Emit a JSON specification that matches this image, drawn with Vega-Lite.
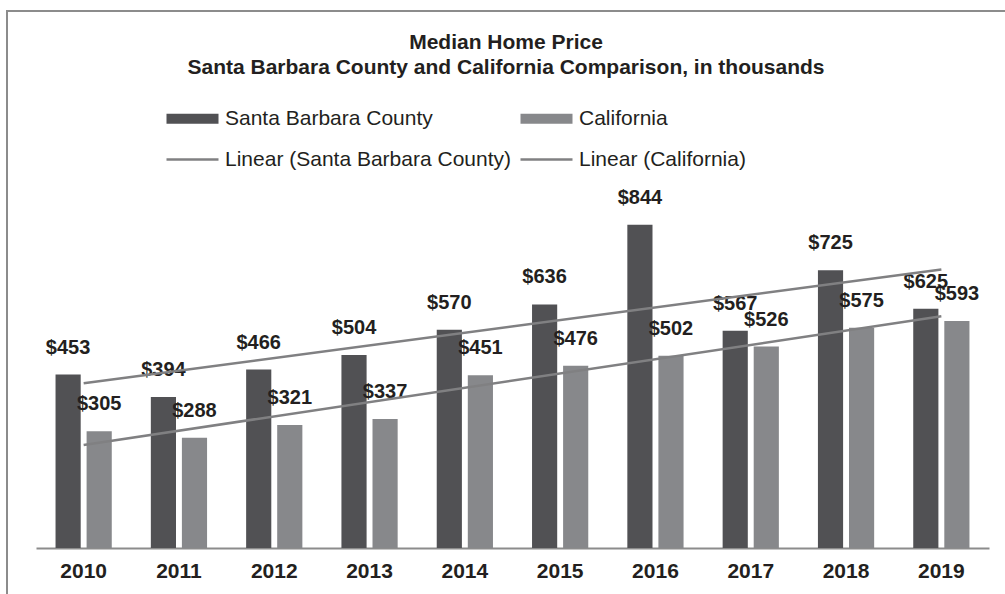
{
  "$schema": "https://vega.github.io/schema/vega-lite/v6.json",
  "autosize": {"type": "none"},
  "padding": {"left": 7, "top": 11, "right": 0, "bottom": 0},
  "width": 998,
  "height": 583,
  "background": "white",
  "config": {
    "view": {"stroke": "#8c8c8c", "strokeWidth": 2, "strokeDash": [998, 1581, 583]},
    "font": "Liberation Sans"
  },
  "title": {
    "text": ["Median Home Price", "Santa Barbara County and California Comparison, in thousands"],
    "font": "Liberation Sans",
    "fontSize": 21,
    "fontWeight": "bold",
    "color": "#231f20",
    "lineHeight": 25,
    "anchor": "middle",
    "frame": "group",
    "offset": -67
  },
  "datasets": {
    "bars": [
      {"year": "2010", "series": "Santa Barbara County", "value": 453},
      {"year": "2010", "series": "California", "value": 305},
      {"year": "2011", "series": "Santa Barbara County", "value": 394},
      {"year": "2011", "series": "California", "value": 288},
      {"year": "2012", "series": "Santa Barbara County", "value": 466},
      {"year": "2012", "series": "California", "value": 321},
      {"year": "2013", "series": "Santa Barbara County", "value": 504},
      {"year": "2013", "series": "California", "value": 337},
      {"year": "2014", "series": "Santa Barbara County", "value": 570},
      {"year": "2014", "series": "California", "value": 451},
      {"year": "2015", "series": "Santa Barbara County", "value": 636},
      {"year": "2015", "series": "California", "value": 476},
      {"year": "2016", "series": "Santa Barbara County", "value": 844},
      {"year": "2016", "series": "California", "value": 502},
      {"year": "2017", "series": "Santa Barbara County", "value": 567},
      {"year": "2017", "series": "California", "value": 526},
      {"year": "2018", "series": "Santa Barbara County", "value": 725},
      {"year": "2018", "series": "California", "value": 575},
      {"year": "2019", "series": "Santa Barbara County", "value": 625},
      {"year": "2019", "series": "California", "value": 593}
    ],
    "trend": [
      {"year": "2010", "series": "Linear (Santa Barbara County)", "value": 430},
      {"year": "2019", "series": "Linear (Santa Barbara County)", "value": 727},
      {"year": "2010", "series": "Linear (California)", "value": 269},
      {"year": "2019", "series": "Linear (California)", "value": 605}
    ]
  },
  "encoding": {
    "x": {
      "field": "year",
      "type": "nominal",
      "scale": {"range": [29, 982], "paddingInner": 0.41, "paddingOuter": 0.205},
      "axis": {
        "title": null,
        "orient": "bottom",
        "offset": -46,
        "labelAngle": 0,
        "ticks": false,
        "domainColor": "#8c8c8c",
        "domainWidth": 2,
        "labelFont": "Liberation Sans",
        "labelFontSize": 21,
        "labelFontWeight": "bold",
        "labelColor": "#231f20",
        "labelPadding": 12
      }
    }
  },
  "layer": [
    {
      "data": {"name": "bars"},
      "mark": {"type": "bar"},
      "encoding": {
        "xOffset": {"field": "series", "type": "nominal", "scale": {"domain": ["Santa Barbara County", "California"], "paddingInner": 0.19}},
        "y": {"field": "value", "type": "quantitative", "scale": {"domain": [0, 1000], "range": [537, 154]}, "axis": null},
        "color": {
          "field": "series",
          "type": "nominal",
          "scale": {
            "domain": ["Santa Barbara County", "California", "Linear (Santa Barbara County)", "Linear (California)"],
            "range": ["#515154", "#87888b", "#808082", "#808082"]
          },
          "legend": {
            "orient": "none",
            "legendX": 175,
            "legendY": 97,
            "title": null,
            "columns": 2,
            "direction": "horizontal",
            "gridAlign": "all",
            "padding": 0,
            "columnPadding": 9,
            "rowPadding": 19,
            "symbolSize": 400,
            "labelOffset": 22,
            "labelFont": "Liberation Sans",
            "labelFontSize": 21,
            "labelColor": "#231f20",
            "labelLimit": 400,
            "encode": {
              "symbols": {
                "update": {
                  "shape": {"signal": "test(/^Linear/, datum.value) ? 'M-2.6,-0.12H2.6V0.12H-2.6Z' : 'M-2.6,-0.5H2.6V0.5H-2.6Z'"},
                  "fill": {"signal": "scale('color', datum.value)"},
                  "stroke": {"value": "transparent"},
                  "strokeWidth": {"value": 0},
                  "opacity": {"value": 1},
                  "fillOpacity": {"value": 1}
                }
              }
            }
          }
        }
      }
    },
    {
      "data": {"name": "bars"},
      "mark": {"type": "text", "dy": -27, "baseline": "middle", "fontSize": 20, "fontWeight": "bold", "font": "Liberation Sans", "color": "#231f20"},
      "encoding": {
        "xOffset": {"field": "series", "type": "nominal", "scale": {"domain": ["Santa Barbara County", "California"], "paddingInner": 0.19}},
        "y": {"field": "value", "type": "quantitative"},
        "text": {"field": "value", "type": "quantitative", "format": "$d"}
      }
    },
    {
      "data": {"name": "trend"},
      "mark": {"type": "line", "strokeWidth": 2.5},
      "encoding": {
        "y": {"field": "value", "type": "quantitative"},
        "color": {"field": "series", "type": "nominal"}
      }
    }
  ]
}
